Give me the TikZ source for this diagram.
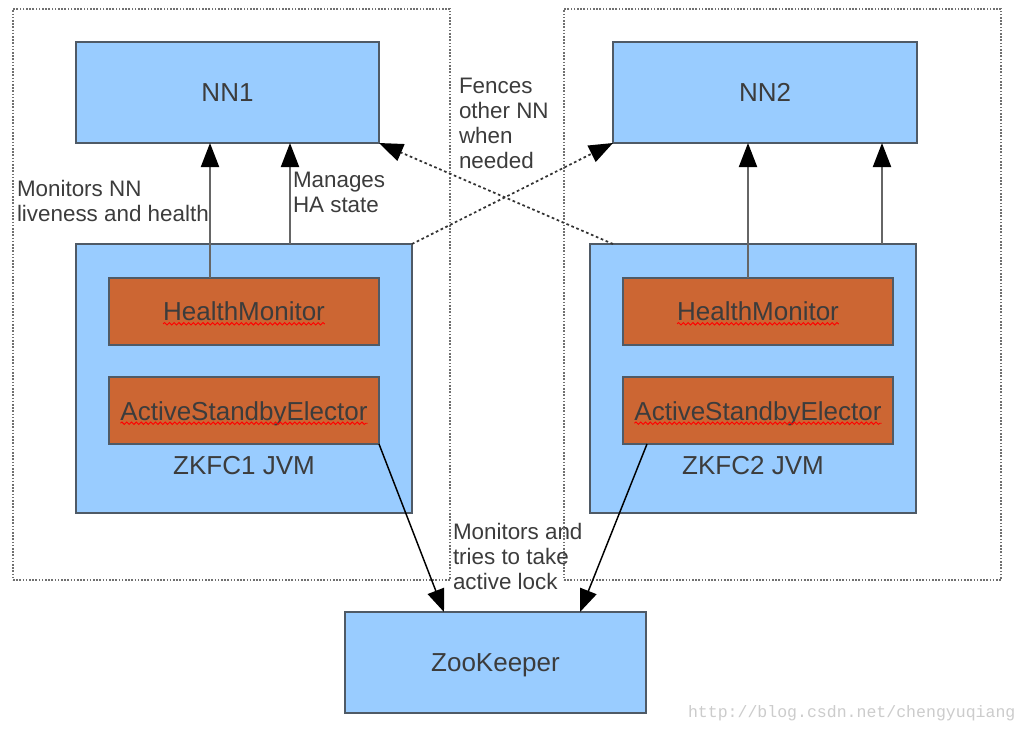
\documentclass[tikz,border=0pt]{standalone}
\usepackage{fontspec}
\setmainfont{Liberation Sans}
\newfontfamily\wmfont{Liberation Mono}
\usetikzlibrary{arrows.meta,calc,decorations.pathmorphing}
\definecolor{boxblue}{HTML}{99CCFF}
\definecolor{boxorange}{HTML}{CC6633}
\definecolor{edgec}{HTML}{4F5A66}
\definecolor{txt}{HTML}{3C3C3C}
\definecolor{arrgray}{HTML}{666666}
\definecolor{framec}{HTML}{707070}
\begin{document}
\begin{tikzpicture}[x=0.75pt,y=-0.75pt,
  every node/.style={inner sep=0pt,outer sep=0pt},
  box/.style={draw=edgec,line width=1.5pt,fill=boxblue,anchor=north west,text=txt,
    font=\fontsize{19.5pt}{22pt}\selectfont},
  obox/.style={box,fill=boxorange},
  txtnode/.style={text=txt,font=\fontsize{19.5pt}{22pt}\selectfont},
  frame/.style={draw=framec,line width=1.3pt,dash pattern=on 1.2pt off 1.2pt,anchor=north west},
  lbl/.style={anchor=north west,align=left,text=txt,font=\fontsize{16.8pt}{18.75pt}\selectfont},
  grayarr/.style={draw=arrgray,line width=1.5pt,-{Triangle[length=18pt,width=13.5pt,color=black]}},
  dotarr/.style={draw=black!80,line width=1.3pt,dash pattern=on 2pt off 2pt,-{Triangle[length=18pt,width=13.5pt,color=black]}},
  blkarr/.style={draw=black,line width=1.1pt,-{Triangle[length=17pt,width=13pt]}},
  squig/.style={draw=red,line width=0.7pt,decorate,decoration={snake,amplitude=0.9pt,segment length=3.6pt}}
]
\useasboundingbox (0,0) rectangle (1029,733);
\fill[white] (0,0) rectangle (1029,733);

% dotted frames
\node[frame,minimum width=327.75pt,minimum height=428.25pt] (F1) at (13,9) {};
\node[frame,minimum width=327.75pt,minimum height=428.25pt] (F2) at (564,9) {};

% boxes
\node[box,minimum width=227.25pt,minimum height=75.75pt] (NN1) at (76,42) {NN1};
\node[box,minimum width=228pt,minimum height=75.75pt] (NN2) at (613,42) {NN2};
\node[box,minimum width=252pt,minimum height=201.75pt] (ZK1) at (76,244) {};
\node[box,minimum width=244.5pt,minimum height=201.75pt] (ZK2) at (590,244) {};
\node[obox,minimum width=202.5pt,minimum height=50.25pt] (HM1) at (109,278) {};
\node[obox,minimum width=202.5pt,minimum height=50.25pt] (ASE1) at (109,377) {};
\node[obox,minimum width=202.5pt,minimum height=50.25pt] (HM2) at (623,278) {};
\node[obox,minimum width=202.5pt,minimum height=50.25pt] (ASE2) at (623,377) {};
\node[box,minimum width=225.75pt,minimum height=75.75pt] (ZooK) at (345,612) {};

% inner texts
\node[txtnode] (zookt) at ($(ZooK.center)+(0,3)$) {ZooKeeper};
\node[txtnode] (hm1t) at (HM1.center) {HealthMonitor};
\node[txtnode] (ase1t) at ($(ASE1.center)+(0,3)$) {ActiveStandbyElector};
\node[txtnode] (hm2t) at (HM2.center) {HealthMonitor};
\node[txtnode] (ase2t) at ($(ASE2.center)+(0,3)$) {ActiveStandbyElector};
\node[txtnode] (zk1t) at ($(ZK1.south)+(0,-47)$) {ZKFC1 JVM};
\node[txtnode] (zk2t) at ($(ZK2.south)+(0,-47)$) {ZKFC2 JVM};

% spell-check squiggles
\foreach \n in {hm1t,ase1t,hm2t,ase2t}{
  \draw[squig] ($(\n.base west)+(0,3)$) -- ($(\n.base east)+(0,3)$);
}

% vertical arrows
\draw[grayarr] ($(HM1.north west)+(101,0)$) -- ($(NN1.south west)+(134,0)$);
\draw[grayarr] ($(ZK1.north west)+(214,0)$) -- ($(NN1.south west)+(214,0)$);
\draw[grayarr] ($(HM2.north west)+(125,0)$) -- ($(NN2.south west)+(135,0)$);
\draw[grayarr] ($(ZK2.north west)+(292,0)$) -- ($(NN2.south west)+(269,0)$);

% fencing arrows
\draw[dotarr] (ZK1.north east) -- (NN2.south west);
\draw[dotarr] ($(ZK2.north west)+(23,0)$) -- (NN1.south east);

% zookeeper arrows
\draw[blkarr] (ASE1.south east) -- ($(ZooK.north west)+(99,0)$);
\draw[blkarr] ($(ASE2.south west)+(24,0)$) -- ($(ZooK.north west)+(235,0)$);

% labels
\node[lbl] (l1) at (17,180) {Monitors NN\\liveness and health};
\node[lbl] (l2) at (293,172) {Manages\\HA state};
\node[lbl] (l3) at (459,78) {Fences\\other NN\\when\\needed};
\node[lbl] (l4) at (453,523) {Monitors and\\tries to take\\active lock};

% watermark
\node[anchor=west,text=black!20,font=\wmfont\fontsize{12.4pt}{14pt}\selectfont] (wm) at (688,713) {http://blog.csdn.net/chengyuqiang};
\end{tikzpicture}
\end{document}
